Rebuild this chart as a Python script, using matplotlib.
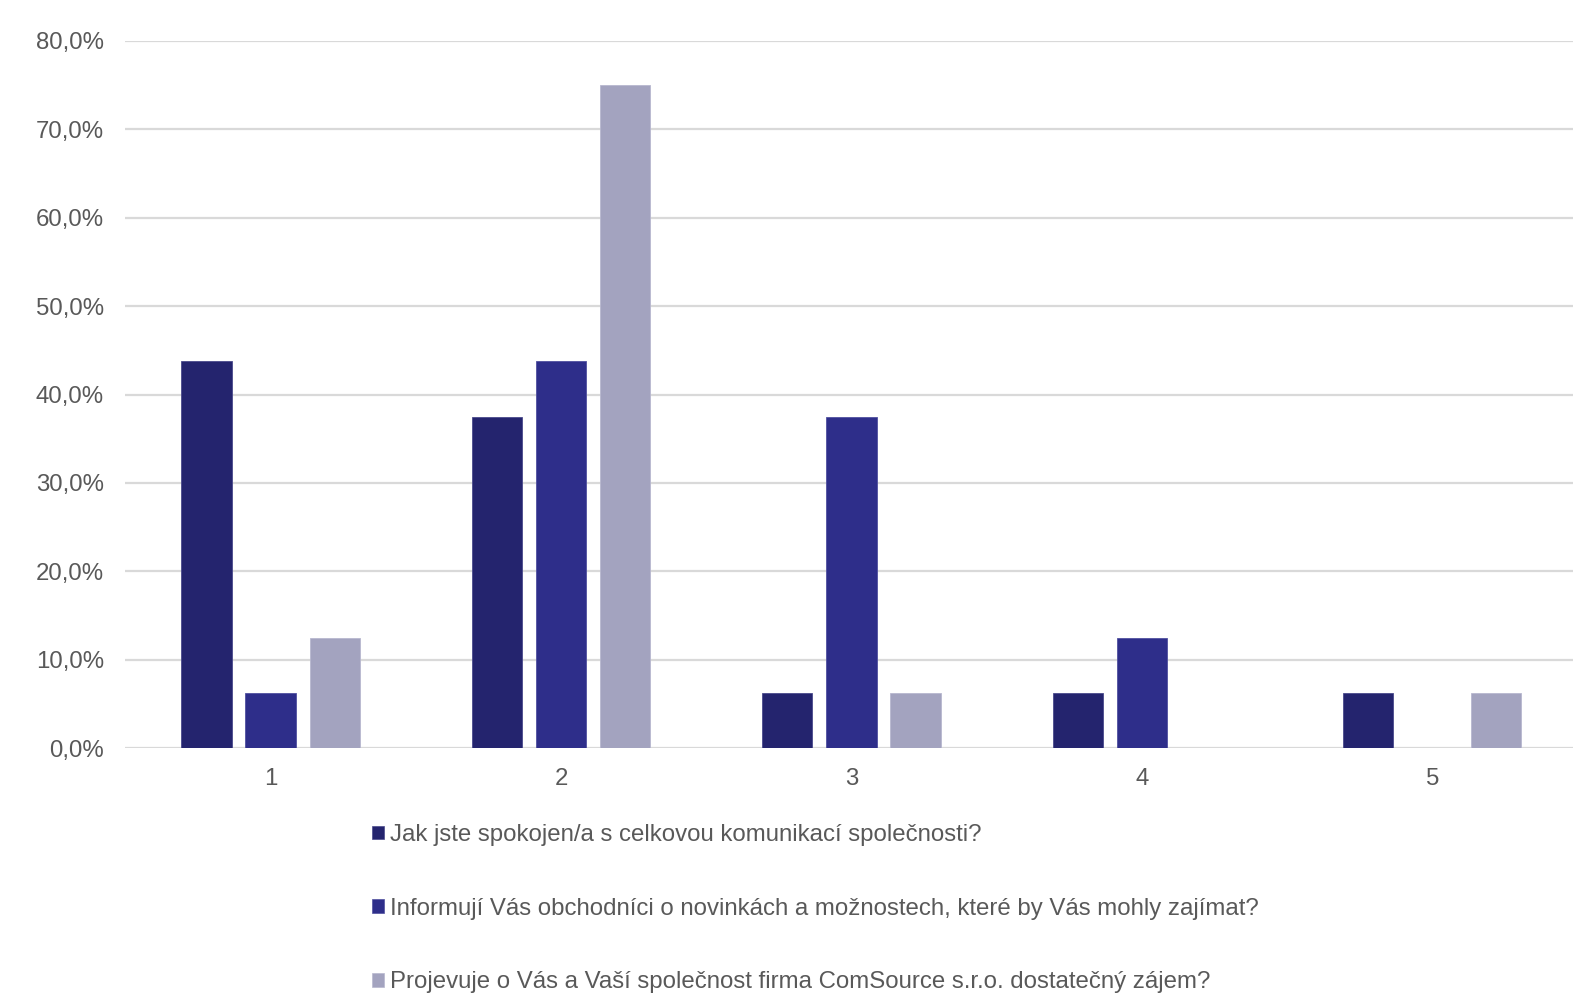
import matplotlib
matplotlib.use("Agg")
import matplotlib.pyplot as plt
from matplotlib.patches import Patch
import numpy as np

categories = ["1", "2", "3", "4", "5"]
series_names = [
    "Jak jste spokojen/a s celkovou komunikací společnosti?",
    "Informují Vás obchodníci o novinkách a možnostech, které by Vás mohly zajímat?",
    "Projevuje o Vás a Vaší společnost firma ComSource s.r.o. dostatečný zájem?",
]
s1 = [43.75, 37.5, 6.25, 6.25, 6.25]
s2 = [6.25, 43.75, 37.5, 12.5, 0.0]
s3 = [12.5, 75.0, 6.25, 0.0, 6.25]
yticks = [0, 10, 20, 30, 40, 50, 60, 70, 80]
ytick_labels = ["0,0%", "10,0%", "20,0%", "30,0%", "40,0%", "50,0%", "60,0%", "70,0%", "80,0%"]

colors = ["#24246e", "#2e2e8a", "#a3a3bf"]
edge = ["#4a4a8c", "#5050a0", "#b8b8cf"]
text_color = "#595959"

plt.rcParams['font.family'] = ['Liberation Sans', 'DejaVu Sans']

fig = plt.figure(figsize=(15.73, 9.93), dpi=100)
ax = fig.add_axes([125.4/1573, 1-748/993, 1452/1573, (748-41)/993])

x = np.arange(1, len(categories)+1)
w = 0.173
off = 0.221
for i, vals in enumerate([s1, s2, s3]):
    ax.bar(x + (i-1)*off, vals, width=w, color=colors[i], edgecolor=edge[i], linewidth=0.6, zorder=3)

ax.set_xlim(0.5, 5.5)
ax.set_ylim(0, 80)
ax.set_yticks(yticks)
ax.set_yticklabels(ytick_labels)
ax.set_xticks(x)
ax.set_xticklabels(categories)
ax.tick_params(axis='both', length=0, labelsize=17.3, colors=text_color)
ax.tick_params(axis='y', pad=15.5)
ax.tick_params(axis='x', pad=14.5)
ax.grid(axis='y', color='#d9d9d9', linewidth=1.6, zorder=0)
for sp in ax.spines.values():
    sp.set_visible(False)

handles = [Patch(facecolor=colors[i], edgecolor=edge[i], linewidth=0.5) for i in range(3)]
leg = fig.legend(handles, series_names, loc='upper left', bbox_to_anchor=(372/1573, 1-824/993),
                 frameon=False, fontsize=17.3, labelcolor=text_color, handlelength=0.5,
                 handleheight=0.5, handletextpad=0.25, labelspacing=2.15, borderpad=0,
                 borderaxespad=0)

fig.savefig("out.png", dpi=100)
